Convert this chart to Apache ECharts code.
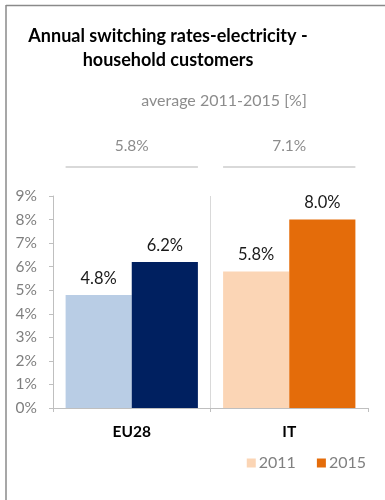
<!DOCTYPE html>
<html>
<head>
<meta charset="utf-8">
<script src="https://cdn.jsdelivr.net/npm/echarts@6/dist/echarts.min.js"></script>
<style>
  html, body { margin: 0; padding: 0; background: #fff; }
  #chart { width: 385px; height: 500px; }
</style>
</head>
<body>
<div id="chart"></div>
<script>
// Categories, yearly switching rates and period averages (percent)
const categories = ['EU28', 'IT'];
const rates2011 = [4.8, 5.8];
const rates2015 = [6.2, 8.0];
const averages = [5.8, 7.1];
const yTicks = [0, 1, 2, 3, 4, 5, 6, 7, 8, 9];

// EU28 bars are drawn in blues, IT bars in oranges
const colors2011 = ['#B9CDE5', '#FBD5B5'];
const colors2015 = ['#002060', '#E46C0A'];

const FONT = 'Lato, "Open Sans", sans-serif';
const GRID_LEFT = 53, GRID_RIGHT = 17;

const chart = echarts.init(document.getElementById('chart'), null, { renderer: 'canvas' });

function pct(v) { return v.toFixed(1) + '%'; }

chart.setOption({
  animation: false,
  textStyle: { fontFamily: FONT },
  title: [
    {
      text: 'Annual switching rates-electricity -\nhousehold customers',
      left: 163, top: 19, textAlign: 'center',
      textStyle: { fontFamily: FONT, fontSize: 18, fontWeight: 'bold', color: '#000', lineHeight: 24 }
    },
    {
      text: 'average 2011-2015 [%]',
      left: 219, top: 88, textAlign: 'center',
      textStyle: { fontFamily: FONT, fontSize: 16, fontWeight: 'normal', color: '#8c8c8c' }
    }
  ],
  legend: {
    data: ['2011', '2015'],
    right: 14, top: 450,
    itemWidth: 9, itemHeight: 9, itemGap: 21,
    icon: 'rect',
    textStyle: { fontFamily: FONT, fontSize: 16, color: '#808080', padding: [0, 0, 0, -2] }
  },
  grid: [
    { left: GRID_LEFT, right: GRID_RIGHT, top: 196, bottom: 92 },
    { left: GRID_LEFT, right: GRID_RIGHT, top: 130, height: 38 }
  ],
  xAxis: [
    {
      type: 'category', data: categories, gridIndex: 0,
      axisLine: { lineStyle: { color: '#bfbfbf', width: 1 } },
      axisTick: { show: true, length: 4, lineStyle: { color: '#bfbfbf' } },
      axisLabel: { fontFamily: FONT, fontSize: 15.5, fontWeight: 'bold', color: '#000', margin: 16 },
      splitLine: { show: true, lineStyle: { color: ['rgba(0,0,0,0)', '#d9d9d9'], width: 1 } }
    },
    {
      type: 'category', data: categories, gridIndex: 1, show: false
    }
  ],
  yAxis: [
    {
      type: 'value', gridIndex: 0, min: 0, max: yTicks[yTicks.length - 1], interval: 1,
      axisLine: { show: true, lineStyle: { color: '#bfbfbf', width: 1 } },
      axisTick: { show: true, length: 4, inside: false, lineStyle: { color: '#bfbfbf' } },
      axisLabel: { fontFamily: FONT, fontSize: 15.5, color: '#7f7f7f', margin: 16,
        formatter: v => v + '%' },
      splitLine: { show: false }
    },
    { type: 'value', gridIndex: 1, min: 0, max: 1, show: false }
  ],
  series: [
    {
      name: '2011', type: 'bar', xAxisIndex: 0, yAxisIndex: 0,
      barCategoryGap: '16%', barGap: '0%',
      itemStyle: { color: colors2011[1] },
      data: rates2011.map((v, i) => ({ value: v, itemStyle: { color: colors2011[i] } })),
      label: { show: true, position: 'top', distance: 8, fontFamily: FONT, fontSize: 16.5,
        color: '#1a1a1a', formatter: p => pct(p.value) }
    },
    {
      name: '2015', type: 'bar', xAxisIndex: 0, yAxisIndex: 0,
      barCategoryGap: '16%', barGap: '0%',
      itemStyle: { color: colors2015[1] },
      data: rates2015.map((v, i) => ({ value: v, itemStyle: { color: colors2015[i] } })),
      label: { show: true, position: 'top', distance: 8, fontFamily: FONT, fontSize: 16.5,
        color: '#1a1a1a', formatter: p => pct(p.value) }
    },
    {
      // Period averages: value text above a rule spanning the bar pair
      name: 'average', type: 'custom', xAxisIndex: 1, yAxisIndex: 1,
      data: averages.map((v, i) => [i, v]),
      renderItem: function (params, api) {
        const base = api.coord([api.value(0), 0]);
        const band = api.size([1, 0])[0];
        const half = band * 0.42;
        return {
          type: 'group',
          children: [
            {
              type: 'line',
              shape: { x1: base[0] - half, y1: base[1] - 1, x2: base[0] + half, y2: base[1] - 1 },
              style: { stroke: '#d9d9d9', lineWidth: 2 }
            },
            {
              type: 'text',
              style: {
                x: base[0], y: base[1] - 22, text: pct(api.value(1)),
                align: 'center', verticalAlign: 'middle',
                font: '15.5px ' + FONT, fill: '#8c8c8c'
              }
            }
          ]
        };
      }
    }
  ],
  graphic: [
    { type: 'line', shape: { x1: 6, y1: 5.5, x2: 385, y2: 5.5 }, style: { stroke: '#8a8a8a', lineWidth: 1.5 } },
    { type: 'line', shape: { x1: 6, y1: 5, x2: 6, y2: 500 }, style: { stroke: '#8a8a8a', lineWidth: 1.5 } }
  ]
});
</script>
</body>
</html>
